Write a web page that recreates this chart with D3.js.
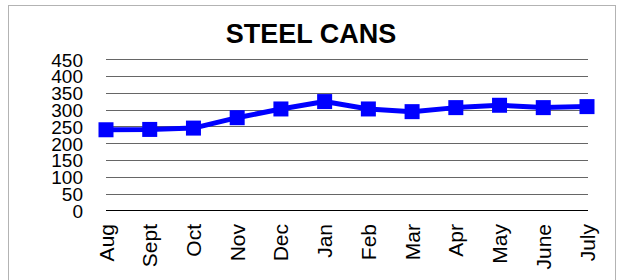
<!DOCTYPE html>
<html><head><meta charset="utf-8">
<script src="https://cdn.jsdelivr.net/npm/d3@7/dist/d3.min.js"></script>
<style>html,body{margin:0;padding:0;background:#fff;}svg{display:block;}</style>
</head><body>
<script>
const months = ["Aug","Sept","Oct","Nov","Dec","Jan","Feb","Mar","Apr","May","June","July"];
const values = [240, 241, 245, 276, 302, 324, 302, 294, 306, 313, 306, 309];
const yTicks = [0, 50, 100, 150, 200, 250, 300, 350, 400, 450];
const title = "STEEL CANS";

const W = 624, H = 280;
const svg = d3.select("body").append("svg").attr("width", W).attr("height", H);
svg.append("rect").attr("x", 8.5).attr("y", 5.5).attr("width", 607).attr("height", 290)
  .attr("fill", "#fff").attr("stroke", "#b3b3b3").attr("stroke-width", 1);

const x = d3.scalePoint().domain(months).range([106, 587]);
const y = d3.scaleLinear().domain([0, 450]).range([210.3, 59.3]);

svg.append("text").attr("x", 311).attr("y", 42.5).attr("text-anchor", "middle")
  .attr("font-family", "Liberation Sans, Arial, sans-serif").attr("font-weight", "bold")
  .attr("font-size", 27).attr("fill", "#000").text(title);

const grid = svg.append("g");
grid.selectAll("line").data(yTicks.filter(d => d > 0)).enter().append("line")
  .attr("x1", 106).attr("x2", 588)
  .attr("y1", d => Math.round(y(d)) + 0.5).attr("y2", d => Math.round(y(d)) + 0.5)
  .attr("stroke", "#666").attr("stroke-width", 1);

const yAxis = d3.axisLeft(y).tickValues(yTicks).tickSize(0).tickPadding(0);
const yg = svg.append("g").attr("transform", "translate(83,0)").call(yAxis);
yg.select(".domain").remove();
yg.selectAll("text").attr("font-family", "Liberation Sans, Arial, sans-serif")
  .attr("font-size", 19).attr("fill", "#000").attr("dy", "0.36em");

svg.append("line").attr("x1", 106).attr("x2", 588)
  .attr("y1", Math.round(y(0)) + 0.5).attr("y2", Math.round(y(0)) + 0.5)
  .attr("stroke", "#000").attr("stroke-width", 1.2);

const xAxis = d3.axisBottom(x).tickSize(0).tickPadding(0);
const xg = svg.append("g").attr("transform", "translate(0,0)").call(xAxis);
xg.select(".domain").remove();
xg.selectAll(".tick").attr("transform", d => `translate(${x(d)},224)`);
xg.selectAll("text").attr("font-family", "Liberation Sans, Arial, sans-serif")
  .attr("font-size", 21).attr("fill", "#000")
  .attr("transform", "rotate(-90)").attr("text-anchor", "end")
  .attr("x", 0).attr("y", 0).attr("dy", "0.36em");

const line = d3.line().x((d, i) => x(months[i])).y(d => y(d));
svg.append("path").datum(values).attr("d", line).attr("fill", "none")
  .attr("stroke", "#0000ff").attr("stroke-width", 5).attr("stroke-linejoin", "round");

const s = 15;
svg.append("g").selectAll("rect").data(values).enter().append("rect")
  .attr("x", (d, i) => x(months[i]) - s / 2).attr("y", d => y(d) - s / 2)
  .attr("width", s).attr("height", s).attr("fill", "#0000ff");
</script>
</body></html>
